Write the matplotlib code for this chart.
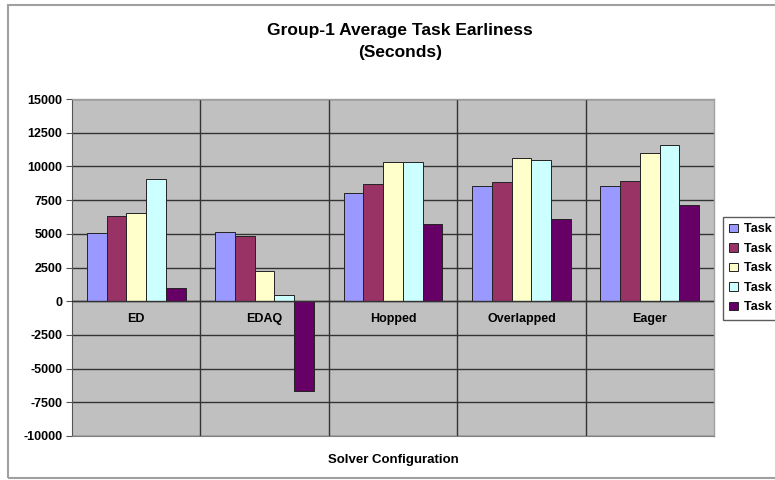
import matplotlib
matplotlib.use("Agg")
import matplotlib.pyplot as plt
import numpy as np
from matplotlib.patches import Rectangle

categories = ["ED", "EDAQ", "Hopped", "Overlapped", "Eager"]
series_names = ["Task 1", "Task 2", "Task 3", "Task 4", "Task 5"]
task1 = [5050, 5120, 8060, 8530, 8530]
task2 = [6300, 4800, 8680, 8850, 8950]
task3 = [6550, 2250, 10330, 10660, 11000]
task4 = [9050, 470, 10330, 10460, 11620]
task5 = [950, -6650, 5760, 6100, 7140]
yticks = [-10000, -7500, -5000, -2500, 0, 2500, 5000, 7500, 10000, 12500, 15000]

colors = ["#9999FF", "#993366", "#FFFFCC", "#CCFFFF", "#660066"]
series = [task1, task2, task3, task4, task5]

plt.rcParams['font.family'] = ['Liberation Sans', 'DejaVu Sans']

W, H = 775, 480
fig = plt.figure(figsize=(W / 100, H / 100), dpi=100)
fig.patch.set_facecolor("white")

# outer chart border
fig.add_artist(Rectangle((8 / W, 2 / H), 1.2, 1 - 7 / H, transform=fig.transFigure,
                         fill=False, edgecolor="#A0A0A0", lw=1.5, clip_on=False))

ax = fig.add_axes([72 / W, (H - 436) / H, (714 - 72) / W, (436 - 99) / H])
ax.set_facecolor("#C0C0C0")

n = len(series)
x = np.arange(len(categories))
w = 1 / (n + 1.5)
for i, (vals, c, name) in enumerate(zip(series, colors, series_names)):
    ax.bar(x + (i - (n - 1) / 2) * w, vals, width=w, color=c, edgecolor="#222222",
           linewidth=0.7, label=name, zorder=3)

ax.set_xlim(-0.5, len(categories) - 0.5)
ax.set_ylim(-10000, 15000)
ax.set_yticks(yticks)
ax.set_yticklabels([str(t) for t in yticks], fontsize=9, fontweight="bold")
for t in yticks:
    ax.axhline(t, color="#333333", lw=1.0, zorder=1)
for b in np.arange(0.5, len(categories) - 0.5, 1):
    ax.axvline(b, color="#333333", lw=1.0, zorder=1)
ax.axhline(0, color="#333333", lw=1.0, zorder=4)

ax.set_xticks([])
ax.tick_params(axis="y", length=4, color="#555555", pad=3)
for s in ["top", "right"]:
    ax.spines[s].set_color("#A0A0A0")
    ax.spines[s].set_linewidth(1.0)
ax.spines["bottom"].set_color("#808080")
ax.spines["left"].set_color("#555555")

for xi, cat in zip(x, categories):
    ax.annotate(cat, (xi, 0), xytext=(0, -12.5), textcoords="offset points",
                ha="center", va="center", fontsize=9, fontweight="bold", zorder=5)

fig.text(400 / W, 1 - 30 / H, "Group-1 Average Task Earliness", ha="center", va="center",
         fontsize=12.5, fontweight="bold")
fig.text(400 / W, 1 - 52 / H, "(Seconds)", ha="center", va="center",
         fontsize=12.5, fontweight="bold")
fig.text(393 / W, 1 - 460 / H, "Solver Configuration", ha="center", va="center",
         fontsize=9.5, fontweight="bold")

leg = fig.legend(loc="upper left", bbox_to_anchor=(723 / W, 1 - 217 / H),
                 fontsize=9, frameon=True, fancybox=False, edgecolor="#333333",
                 handlelength=0.7, handleheight=0.7, handletextpad=0.5,
                 labelspacing=0.6, borderpad=0.5, borderaxespad=0)
for t in leg.get_texts():
    t.set_fontweight("bold")

fig.savefig("out.png", dpi=100)
